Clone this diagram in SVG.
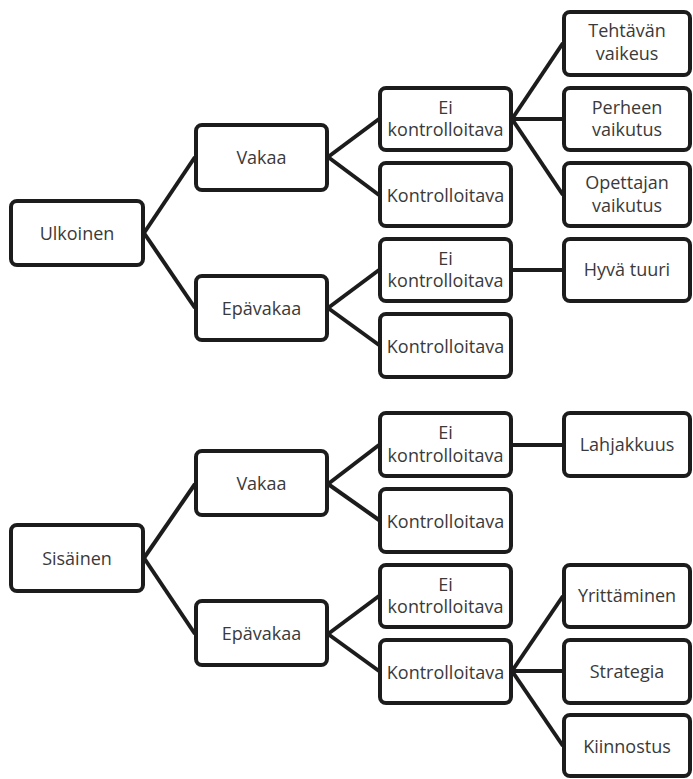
<svg xmlns="http://www.w3.org/2000/svg" width="693" height="779" viewBox="0 0 693 779">
<style>
rect.b{fill:#fff;stroke:#1c1c1c;stroke-width:4;}
text{font-family:"Open Sans","Noto Sans",sans-serif;font-size:18px;fill:#3a3a3a;text-anchor:middle;}
#connectors line{stroke:#1c1c1c;stroke-width:4;stroke-linecap:butt;}
</style>
<rect width="693" height="779" fill="#fff"/>
<g id="connectors">
<line x1="144" y1="233" x2="195" y2="157"/>
<line x1="144" y1="233" x2="195" y2="308"/>
<line x1="144" y1="558" x2="195" y2="484"/>
<line x1="144" y1="558" x2="195" y2="634"/>
<line x1="328" y1="157" x2="379" y2="119"/>
<line x1="328" y1="157" x2="379" y2="195"/>
<line x1="328" y1="308" x2="379" y2="270"/>
<line x1="328" y1="308" x2="379" y2="345"/>
<line x1="328" y1="484" x2="379" y2="445"/>
<line x1="328" y1="484" x2="379" y2="520"/>
<line x1="328" y1="634" x2="379" y2="596"/>
<line x1="328" y1="634" x2="379" y2="671"/>
<line x1="512" y1="119" x2="563" y2="43"/>
<line x1="512" y1="119" x2="563" y2="119"/>
<line x1="512" y1="119" x2="563" y2="195"/>
<line x1="512" y1="270" x2="563" y2="270"/>
<line x1="512" y1="445" x2="563" y2="445"/>
<line x1="512" y1="671" x2="563" y2="596"/>
<line x1="512" y1="671" x2="563" y2="671"/>
<line x1="512" y1="671" x2="563" y2="746"/>
</g>
<g id="ulkoinen"><rect class="b" x="11" y="201" width="132" height="64" rx="6"/><text x="77" y="240">Ulkoinen</text></g>
<g id="u-vakaa"><rect class="b" x="196" y="125" width="131" height="65" rx="6"/><text x="261.5" y="164">Vakaa</text></g>
<g id="u-epavakaa"><rect class="b" x="196" y="276" width="131" height="64" rx="6"/><text x="261.5" y="315">Epävakaa</text></g>
<g id="u-v-eikontr"><rect class="b" x="380" y="88" width="131" height="62" rx="6"/><text x="445.5" y="113.5">Ei</text><text x="445.5" y="136">kontrolloitava</text></g>
<g id="u-v-kontr"><rect class="b" x="380" y="163" width="131" height="63" rx="6"/><text x="445.5" y="201.5">Kontrolloitava</text></g>
<g id="u-e-eikontr"><rect class="b" x="380" y="239" width="131" height="62" rx="6"/><text x="445.5" y="264.5">Ei</text><text x="445.5" y="287">kontrolloitava</text></g>
<g id="u-e-kontr"><rect class="b" x="380" y="314" width="131" height="63" rx="6"/><text x="445.5" y="352.5">Kontrolloitava</text></g>
<g id="tehtavan"><rect class="b" x="564" y="12" width="126" height="63" rx="6"/><text x="627" y="37">Tehtävän</text><text x="627" y="60">vaikeus</text></g>
<g id="perheen"><rect class="b" x="564" y="88" width="126" height="62" rx="6"/><text x="627" y="113.5">Perheen</text><text x="627" y="136">vaikutus</text></g>
<g id="opettajan"><rect class="b" x="564" y="163" width="126" height="63" rx="6"/><text x="627" y="189">Opettajan</text><text x="627" y="212">vaikutus</text></g>
<g id="hyva-tuuri"><rect class="b" x="564" y="239" width="126" height="62" rx="6"/><text x="627" y="276">Hyvä tuuri</text></g>
<g id="sisainen"><rect class="b" x="11" y="525" width="132" height="66" rx="6"/><text x="77" y="565">Sisäinen</text></g>
<g id="s-vakaa"><rect class="b" x="196" y="451" width="131" height="64" rx="6"/><text x="261.5" y="490">Vakaa</text></g>
<g id="s-epavakaa"><rect class="b" x="196" y="601" width="131" height="64" rx="6"/><text x="261.5" y="640">Epävakaa</text></g>
<g id="s-v-eikontr"><rect class="b" x="380" y="413" width="131" height="63" rx="6"/><text x="445.5" y="439">Ei</text><text x="445.5" y="462">kontrolloitava</text></g>
<g id="s-v-kontr"><rect class="b" x="380" y="489" width="131" height="63" rx="6"/><text x="445.5" y="527.5">Kontrolloitava</text></g>
<g id="s-e-eikontr"><rect class="b" x="380" y="565" width="131" height="62" rx="6"/><text x="445.5" y="590.5">Ei</text><text x="445.5" y="613">kontrolloitava</text></g>
<g id="s-e-kontr"><rect class="b" x="380" y="640" width="131" height="63" rx="6"/><text x="445.5" y="678.5">Kontrolloitava</text></g>
<g id="lahjakkuus"><rect class="b" x="564" y="413" width="126" height="63" rx="6"/><text x="627" y="451">Lahjakkuus</text></g>
<g id="yrittaminen"><rect class="b" x="564" y="565" width="126" height="62" rx="6"/><text x="627" y="602">Yrittäminen</text></g>
<g id="strategia"><rect class="b" x="564" y="640" width="126" height="63" rx="6"/><text x="627" y="678">Strategia</text></g>
<g id="kiinnostus"><rect class="b" x="564" y="715" width="126" height="61" rx="6"/><text x="627" y="753">Kiinnostus</text></g>
</svg>
